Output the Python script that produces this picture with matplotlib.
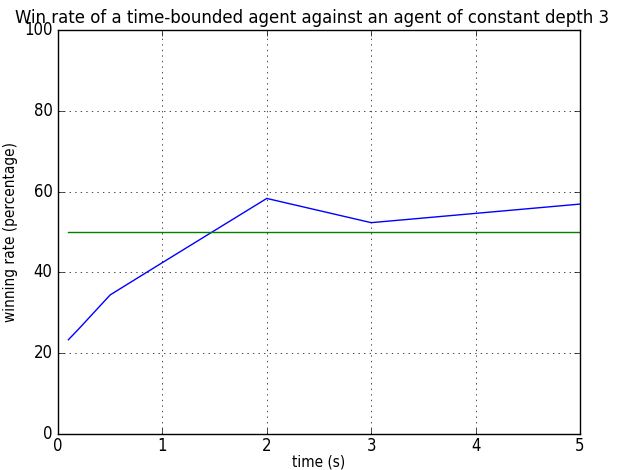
import matplotlib
matplotlib.use("Agg")
import matplotlib.pyplot as plt

plt.style.use("classic")
plt.rcParams["font.family"] = ["DejaVu Sans"]
plt.rcParams["font.stretch"] = "condensed"

# time budget (s) and win rate (%) of the time-bounded agent
times = [0.1, 0.2, 0.5, 1, 2, 3, 4, 5]
win_rate = [23.3, 26.0, 34.4, 42.4, 58.3, 52.3, 54.6, 56.9]
# reference: constant depth agent
baseline = [50, 50, 50, 50, 50, 50, 50, 50]

fig = plt.figure(figsize=(6.23, 4.70), dpi=100)
fig.subplots_adjust(left=0.093, right=0.931, top=0.936, bottom=0.077)
ax = fig.add_subplot(111)

ax.plot(times, win_rate, color="b")
ax.plot(times, baseline, color="g")

ax.set_xlim(0, 5)
ax.set_ylim(0, 100)
ax.grid(True)
ax.set_xlabel("time (s)", fontsize=11, labelpad=0)
ax.set_ylabel("winning rate (percentage)", fontsize=11, labelpad=4)
ax.set_title("Win rate of a time-bounded agent against an agent of constant depth 3",
             fontsize=13.2, x=0.487)
ax.tick_params(labelsize=12)
ax.tick_params(axis="x", pad=2)

plt.savefig("out.png", dpi=100)
